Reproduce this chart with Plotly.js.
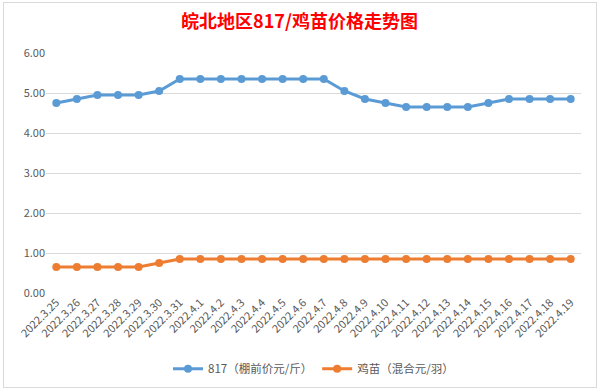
<!DOCTYPE html>
<html>
<head>
<meta charset="utf-8">
<script src="https://cdn.plot.ly/plotly-3.0.1.min.js"></script>
<style>
html,body{margin:0;padding:0;background:#fff;}
#wrap{position:relative;width:599px;height:390px;overflow:hidden;}
#chart{position:absolute;left:0;top:0;width:599px;height:390px;}
#frame{position:absolute;left:3px;top:2px;width:592px;height:384px;border:1px solid #d9d9d9;pointer-events:none;}
</style>
</head>
<body>
<div id="wrap"><div id="chart"></div><div id="frame"></div></div>
<script>
const dates = ["2022.3.25","2022.3.26","2022.3.27","2022.3.28","2022.3.29","2022.3.30","2022.3.31",
  "2022.4.1","2022.4.2","2022.4.3","2022.4.4","2022.4.5","2022.4.6","2022.4.7","2022.4.8","2022.4.9",
  "2022.4.10","2022.4.11","2022.4.12","2022.4.13","2022.4.14","2022.4.15","2022.4.16","2022.4.17",
  "2022.4.18","2022.4.19"];
const price817 = [4.75,4.85,4.95,4.95,4.95,5.05,5.35,5.35,5.35,5.35,5.35,5.35,5.35,5.35,5.05,4.85,
  4.75,4.65,4.65,4.65,4.65,4.75,4.85,4.85,4.85,4.85];
const chickPrice = [0.65,0.65,0.65,0.65,0.65,0.75,0.85,0.85,0.85,0.85,0.85,0.85,0.85,0.85,0.85,0.85,
  0.85,0.85,0.85,0.85,0.85,0.85,0.85,0.85,0.85,0.85];
const seriesNames = ["817（棚前价元/斤）","鸡苗（混合元/羽）"];
const yTicks = [0,1,2,3,4,5,6];

const font = "'Noto Sans CJK SC', 'Noto Sans', sans-serif";
const traces = [
  {x: dates, y: price817, name: seriesNames[0], type: "scatter", mode: "lines+markers",
   line: {color: "#5B9BD5", width: 3}, marker: {color: "#5B9BD5", size: 8}},
  {x: dates, y: chickPrice, name: seriesNames[1], type: "scatter", mode: "lines+markers",
   line: {color: "#ED7D31", width: 3}, marker: {color: "#ED7D31", size: 8}}
];
const layout = {
  width: 599, height: 390,
  margin: {l: 46, r: 18, t: 53, b: 97, autoexpand: false},
  paper_bgcolor: "#fff", plot_bgcolor: "#fff",
  font: {family: font, color: "#595959", size: 11},
  title: {text: "<b>皖北地区817/鸡苗价格走势图</b>", font: {family: font, size: 18, color: "#FF0000"},
          x: 0.5, xref: "container", y: 0.944, yref: "container", yanchor: "middle"},
  xaxis: {type: "category", range: [-0.5, dates.length - 0.5], tickangle: -45, showgrid: false,
          showline: false, zeroline: false, ticks: "", ticklen: 2, tickfont: {size: 11, color: "#595959"}, automargin: false},
  yaxis: {range: [0, 6], tickvals: yTicks, tickformat: ".2f", showgrid: true, gridcolor: "#D9D9D9",
          gridwidth: 1, zeroline: false, showline: false, ticks: "", ticklen: 0,
          tickfont: {size: 11, color: "#595959"}, automargin: false},
  showlegend: true,
  legend: {orientation: "h", x: 0.5, xanchor: "center", y: -0.255, yanchor: "top",
           font: {size: 11.5, color: "#595959"}, itemwidth: 30, traceorder: "normal"}
};
Plotly.newPlot("chart", traces, layout, {displayModeBar: false, staticPlot: true});
</script>
</body>
</html>
